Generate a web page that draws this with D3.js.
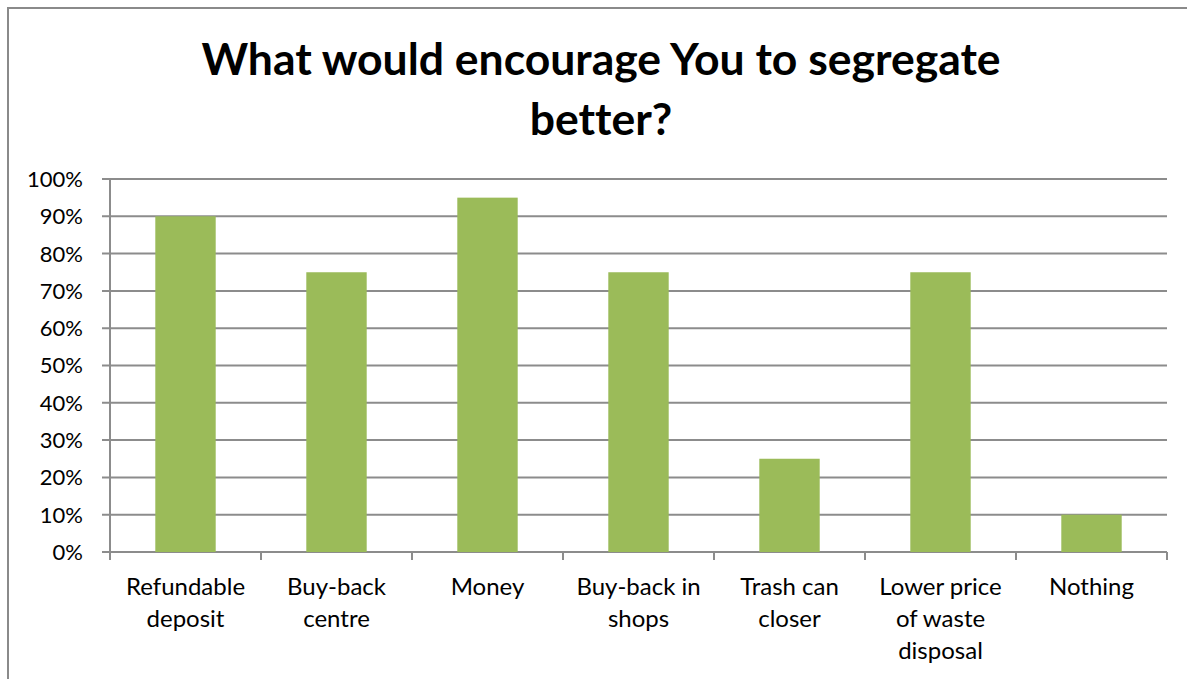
<!DOCTYPE html>
<html><head><meta charset="utf-8">
<script src="https://cdn.jsdelivr.net/npm/d3@7"></script>
<style>html,body{margin:0;padding:0;background:#fff;}svg{display:block;font-family:Lato,"Open Sans",sans-serif;font-variant-ligatures:none;font-feature-settings:"liga" 0;}</style>
</head><body>
<svg id="c" width="1187" height="679"></svg>
<script>
const categories = [["Refundable","deposit"],["Buy-back","centre"],["Money"],["Buy-back in","shops"],["Trash can","closer"],["Lower price","of waste","disposal"],["Nothing"]];
const values = [0.90, 0.75, 0.95, 0.75, 0.25, 0.75, 0.10];
const yTicks = [0,0.1,0.2,0.3,0.4,0.5,0.6,0.7,0.8,0.9,1.0];
const titleLines = ["What would encourage You to segregate","better?"];

const svg = d3.select("#c");
svg.append("path").attr("d","M8,679 V8 H1187").attr("fill","none").attr("stroke","#8a8a8a").attr("stroke-width",2);

const L=110,R=1167,T=179,B=552;
const x = d3.scaleBand().domain(d3.range(values.length)).range([L,R]).padding(0);
const y = d3.scaleLinear().domain([0,1]).range([B,T]);
const gridColor="#8c8c8c";

svg.append("g").selectAll("line").data(yTicks).join("line")
  .attr("x1",L-8).attr("x2",R).attr("y1",d=>y(d)).attr("y2",d=>y(d))
  .attr("stroke",gridColor).attr("stroke-width",2);
svg.append("line").attr("x1",L).attr("x2",L).attr("y1",T).attr("y2",B).attr("stroke",gridColor).attr("stroke-width",2);
const bounds = d3.range(values.length+1).map(i=> i<values.length? x(i) : R);
svg.append("g").selectAll("line").data(bounds).join("line")
  .attr("x1",d=>d).attr("x2",d=>d).attr("y1",B).attr("y2",B+8)
  .attr("stroke",gridColor).attr("stroke-width",2);

const bw = x.bandwidth()*0.4;
svg.append("g").selectAll("rect").data(values).join("rect")
  .attr("x",(d,i)=>x(i)+x.bandwidth()/2-bw/2).attr("width",bw)
  .attr("y",d=>y(d)).attr("height",d=>B-y(d)).attr("fill","#9BBB59");

svg.append("g").selectAll("text").data(yTicks).join("text")
  .attr("x",83).attr("y",d=>y(d)).attr("dy","0.36em").attr("text-anchor","end")
  .attr("font-size",22).attr("fill","#000").text(d=>Math.round(d*100)+"%");

const xl = svg.append("g").selectAll("text").data(categories).join("text")
  .attr("text-anchor","middle").attr("font-size",24).attr("fill","#000");
xl.each(function(lines,i){
  const t=d3.select(this);
  lines.forEach((s,j)=>t.append("tspan").attr("x",x(i)+x.bandwidth()/2).attr("y",595+j*32).text(s));
});

svg.append("g").selectAll("text").data(titleLines).join("text")
  .attr("x",601).attr("y",(d,i)=>75+i*60).attr("text-anchor","middle")
  .attr("font-size",44.5).attr("font-weight","bold").attr("fill","#000").text(d=>d);
</script>
</body></html>
